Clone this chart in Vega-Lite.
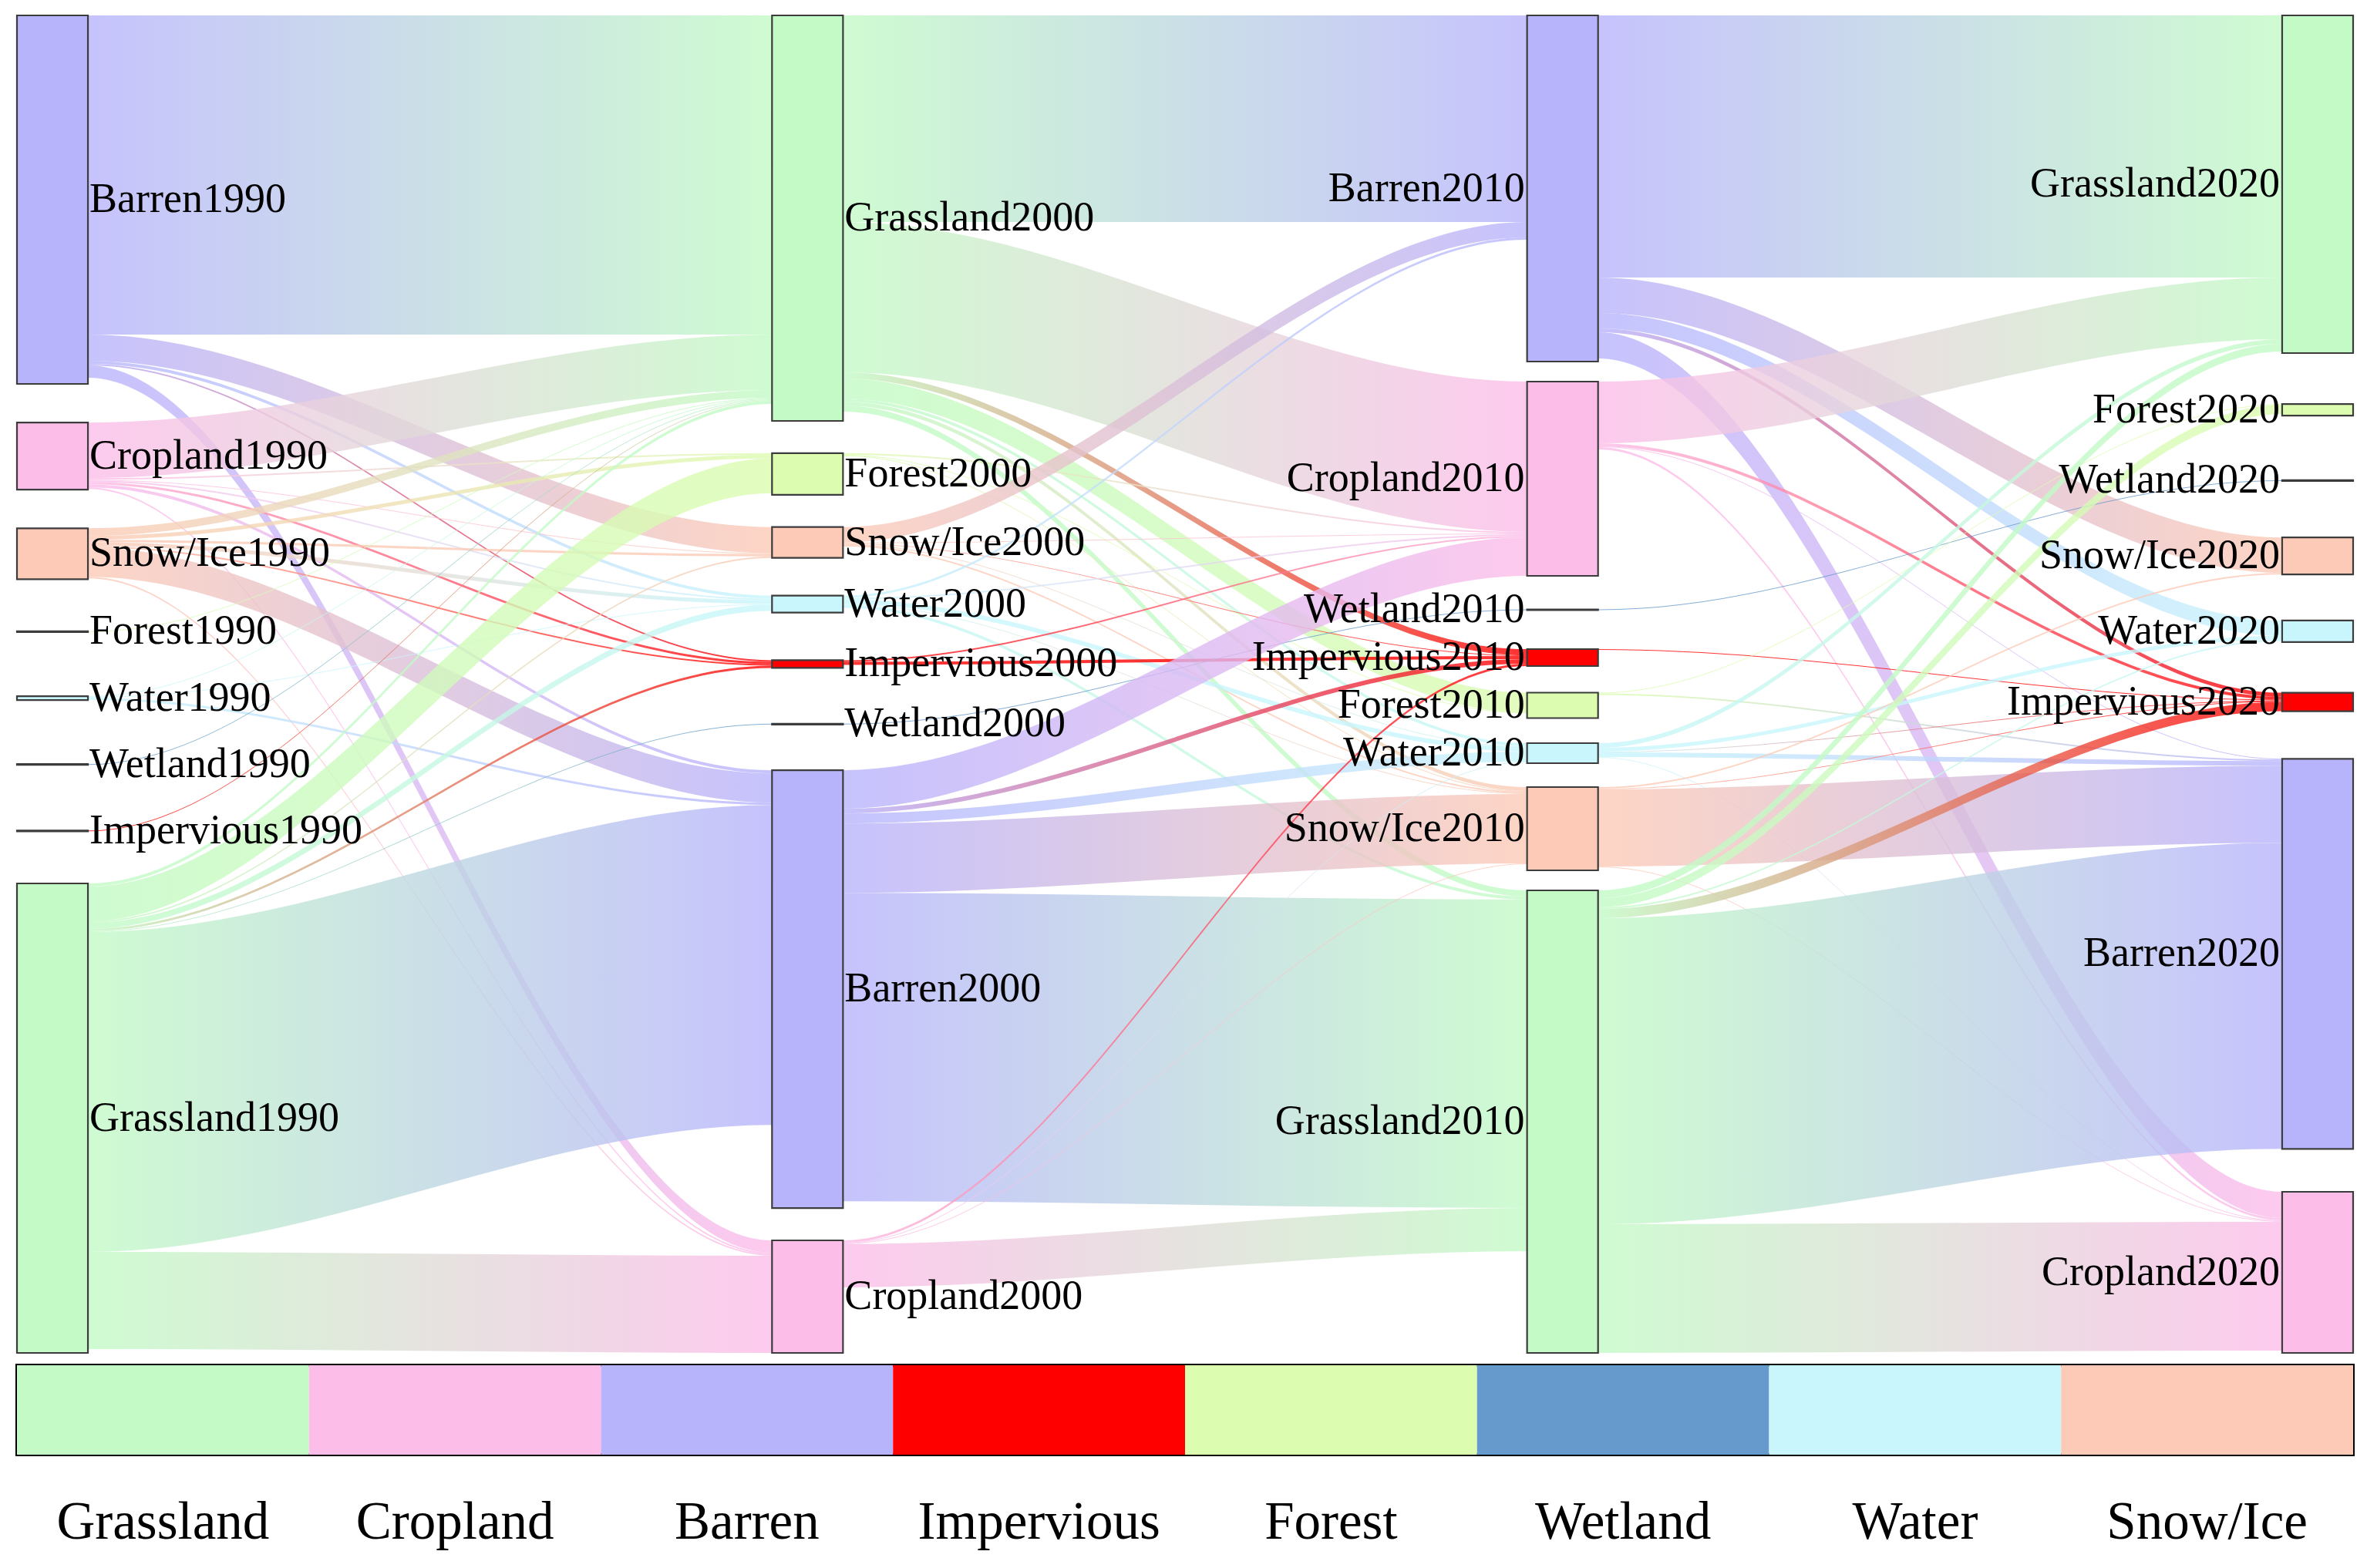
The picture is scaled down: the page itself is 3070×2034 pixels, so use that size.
{
  "$schema": "https://vega.github.io/schema/vega-lite/v6.json",
  "padding": {"left": 20, "top": 18, "right": 20, "bottom": 0},
  "autosize": {"type": "pad"},
  "background": "white",
  "spacing": 16,
  "bounds": "flush",
  "config": {"view": {"stroke": null}},
  "datasets": {
    "sk": [
      {"year": 1990, "cover": "Barren", "rank": 0, "area": 478},
      {"year": 1990, "cover": "Cropland", "rank": 1, "area": 87},
      {"year": 1990, "cover": "Snow/Ice", "rank": 2, "area": 66},
      {"year": 1990, "cover": "Forest", "rank": 3, "area": 1},
      {"year": 1990, "cover": "Water", "rank": 4, "area": 5},
      {"year": 1990, "cover": "Wetland", "rank": 5, "area": 1},
      {"year": 1990, "cover": "Impervious", "rank": 6, "area": 1},
      {"year": 1990, "cover": "Grassland", "rank": 7, "area": 609},
      {"year": 2000, "cover": "Grassland", "rank": 0, "area": 526},
      {"year": 2000, "cover": "Forest", "rank": 1, "area": 54},
      {"year": 2000, "cover": "Snow/Ice", "rank": 2, "area": 40},
      {"year": 2000, "cover": "Water", "rank": 3, "area": 22},
      {"year": 2000, "cover": "Impervious", "rank": 4, "area": 10},
      {"year": 2000, "cover": "Wetland", "rank": 5, "area": 1},
      {"year": 2000, "cover": "Barren", "rank": 6, "area": 568},
      {"year": 2000, "cover": "Cropland", "rank": 7, "area": 146},
      {"year": 2010, "cover": "Barren", "rank": 0, "area": 449},
      {"year": 2010, "cover": "Cropland", "rank": 1, "area": 252},
      {"year": 2010, "cover": "Wetland", "rank": 2, "area": 1},
      {"year": 2010, "cover": "Impervious", "rank": 3, "area": 22},
      {"year": 2010, "cover": "Forest", "rank": 4, "area": 33},
      {"year": 2010, "cover": "Water", "rank": 5, "area": 26},
      {"year": 2010, "cover": "Snow/Ice", "rank": 6, "area": 108},
      {"year": 2010, "cover": "Grassland", "rank": 7, "area": 600},
      {"year": 2020, "cover": "Grassland", "rank": 0, "area": 438},
      {"year": 2020, "cover": "Forest", "rank": 1, "area": 15},
      {"year": 2020, "cover": "Wetland", "rank": 2, "area": 1},
      {"year": 2020, "cover": "Snow/Ice", "rank": 3, "area": 48},
      {"year": 2020, "cover": "Water", "rank": 4, "area": 28},
      {"year": 2020, "cover": "Impervious", "rank": 5, "area": 24},
      {"year": 2020, "cover": "Barren", "rank": 6, "area": 506},
      {"year": 2020, "cover": "Cropland", "rank": 7, "area": 209},

      {"year": 1990, "from": "Barren", "to": "Grassland", "area": 414},
      {"year": 1990, "from": "Barren", "to": "Snow/Ice", "area": 34},
      {"year": 1990, "from": "Barren", "to": "Water", "area": 4},
      {"year": 1990, "from": "Barren", "to": "Impervious", "area": 2},
      {"year": 1990, "from": "Barren", "to": "Cropland", "area": 16},
      {"year": 1990, "from": "Cropland", "to": "Grassland", "area": 72},
      {"year": 1990, "from": "Cropland", "to": "Forest", "area": 2},
      {"year": 1990, "from": "Cropland", "to": "Snow/Ice", "area": 1},
      {"year": 1990, "from": "Cropland", "to": "Water", "area": 2},
      {"year": 1990, "from": "Cropland", "to": "Impervious", "area": 3},
      {"year": 1990, "from": "Cropland", "to": "Barren", "area": 4},
      {"year": 1990, "from": "Cropland", "to": "Cropland", "area": 2},
      {"year": 1990, "from": "Snow/Ice", "to": "Grassland", "area": 10},
      {"year": 1990, "from": "Snow/Ice", "to": "Forest", "area": 5},
      {"year": 1990, "from": "Snow/Ice", "to": "Snow/Ice", "area": 3},
      {"year": 1990, "from": "Snow/Ice", "to": "Water", "area": 5},
      {"year": 1990, "from": "Snow/Ice", "to": "Impervious", "area": 2},
      {"year": 1990, "from": "Snow/Ice", "to": "Barren", "area": 38},
      {"year": 1990, "from": "Snow/Ice", "to": "Cropland", "area": 2},
      {"year": 1990, "from": "Forest", "to": "Grassland", "area": 1},
      {"year": 1990, "from": "Water", "to": "Grassland", "area": 1},
      {"year": 1990, "from": "Water", "to": "Water", "area": 1},
      {"year": 1990, "from": "Water", "to": "Barren", "area": 3},
      {"year": 1990, "from": "Wetland", "to": "Grassland", "area": 1},
      {"year": 1990, "from": "Impervious", "to": "Grassland", "area": 1},
      {"year": 1990, "from": "Grassland", "to": "Grassland", "area": 4},
      {"year": 1990, "from": "Grassland", "to": "Forest", "area": 45},
      {"year": 1990, "from": "Grassland", "to": "Snow/Ice", "area": 2},
      {"year": 1990, "from": "Grassland", "to": "Water", "area": 8},
      {"year": 1990, "from": "Grassland", "to": "Impervious", "area": 3},
      {"year": 1990, "from": "Grassland", "to": "Wetland", "area": 1},
      {"year": 1990, "from": "Grassland", "to": "Barren", "area": 415},
      {"year": 1990, "from": "Grassland", "to": "Cropland", "area": 126},

      {"year": 2000, "from": "Grassland", "to": "Barren", "area": 268},
      {"year": 2000, "from": "Grassland", "to": "Cropland", "area": 195},
      {"year": 2000, "from": "Grassland", "to": "Impervious", "area": 8},
      {"year": 2000, "from": "Grassland", "to": "Forest", "area": 26},
      {"year": 2000, "from": "Grassland", "to": "Water", "area": 4},
      {"year": 2000, "from": "Grassland", "to": "Snow/Ice", "area": 5},
      {"year": 2000, "from": "Grassland", "to": "Grassland", "area": 8},
      {"year": 2000, "from": "Forest", "to": "Cropland", "area": 2},
      {"year": 2000, "from": "Forest", "to": "Forest", "area": 1},
      {"year": 2000, "from": "Forest", "to": "Snow/Ice", "area": 1},
      {"year": 2000, "from": "Snow/Ice", "to": "Barren", "area": 20},
      {"year": 2000, "from": "Snow/Ice", "to": "Cropland", "area": 1},
      {"year": 2000, "from": "Snow/Ice", "to": "Impervious", "area": 1},
      {"year": 2000, "from": "Snow/Ice", "to": "Water", "area": 1},
      {"year": 2000, "from": "Snow/Ice", "to": "Snow/Ice", "area": 2},
      {"year": 2000, "from": "Water", "to": "Barren", "area": 3},
      {"year": 2000, "from": "Water", "to": "Cropland", "area": 2},
      {"year": 2000, "from": "Water", "to": "Water", "area": 6},
      {"year": 2000, "from": "Water", "to": "Snow/Ice", "area": 1},
      {"year": 2000, "from": "Water", "to": "Grassland", "area": 4},
      {"year": 2000, "from": "Impervious", "to": "Cropland", "area": 2},
      {"year": 2000, "from": "Impervious", "to": "Impervious", "area": 4},
      {"year": 2000, "from": "Wetland", "to": "Wetland", "area": 1},
      {"year": 2000, "from": "Barren", "to": "Cropland", "area": 50},
      {"year": 2000, "from": "Barren", "to": "Impervious", "area": 6},
      {"year": 2000, "from": "Barren", "to": "Water", "area": 13},
      {"year": 2000, "from": "Barren", "to": "Snow/Ice", "area": 90},
      {"year": 2000, "from": "Barren", "to": "Grassland", "area": 400},
      {"year": 2000, "from": "Cropland", "to": "Impervious", "area": 3},
      {"year": 2000, "from": "Cropland", "to": "Water", "area": 1},
      {"year": 2000, "from": "Cropland", "to": "Snow/Ice", "area": 1},
      {"year": 2000, "from": "Cropland", "to": "Grassland", "area": 56},

      {"year": 2010, "from": "Barren", "to": "Grassland", "area": 340},
      {"year": 2010, "from": "Barren", "to": "Snow/Ice", "area": 46},
      {"year": 2010, "from": "Barren", "to": "Water", "area": 20},
      {"year": 2010, "from": "Barren", "to": "Impervious", "area": 5},
      {"year": 2010, "from": "Barren", "to": "Cropland", "area": 34},
      {"year": 2010, "from": "Cropland", "to": "Grassland", "area": 80},
      {"year": 2010, "from": "Cropland", "to": "Impervious", "area": 4},
      {"year": 2010, "from": "Cropland", "to": "Barren", "area": 1},
      {"year": 2010, "from": "Cropland", "to": "Cropland", "area": 3},
      {"year": 2010, "from": "Wetland", "to": "Wetland", "area": 1},
      {"year": 2010, "from": "Impervious", "to": "Impervious", "area": 1},
      {"year": 2010, "from": "Forest", "to": "Forest", "area": 1},
      {"year": 2010, "from": "Forest", "to": "Barren", "area": 2},
      {"year": 2010, "from": "Water", "to": "Grassland", "area": 6},
      {"year": 2010, "from": "Water", "to": "Water", "area": 5},
      {"year": 2010, "from": "Water", "to": "Impervious", "area": 1},
      {"year": 2010, "from": "Water", "to": "Barren", "area": 6},
      {"year": 2010, "from": "Water", "to": "Cropland", "area": 1},
      {"year": 2010, "from": "Snow/Ice", "to": "Snow/Ice", "area": 2},
      {"year": 2010, "from": "Snow/Ice", "to": "Impervious", "area": 1},
      {"year": 2010, "from": "Snow/Ice", "to": "Barren", "area": 100},
      {"year": 2010, "from": "Snow/Ice", "to": "Cropland", "area": 1},
      {"year": 2010, "from": "Grassland", "to": "Grassland", "area": 10},
      {"year": 2010, "from": "Grassland", "to": "Forest", "area": 12},
      {"year": 2010, "from": "Grassland", "to": "Water", "area": 2},
      {"year": 2010, "from": "Grassland", "to": "Impervious", "area": 12},
      {"year": 2010, "from": "Grassland", "to": "Barren", "area": 397},
      {"year": 2010, "from": "Grassland", "to": "Cropland", "area": 167}
    ],
    "legend": [
      {"cover": "Grassland"}, {"cover": "Cropland"}, {"cover": "Barren"}, {"cover": "Impervious"},
      {"cover": "Forest"}, {"cover": "Wetland"}, {"cover": "Water"}, {"cover": "Snow/Ice"}
    ]
  },
  "vconcat": [
    {
      "width": 3030,
      "height": 1735,
      "data": {"name": "sk"},
      "layer": [
        {
          "transform": [
            {"calculate": "datum.year + datum.from + '>' + datum.to", "as": "lid"},
            {"calculate": "{gradient: 'linear', x1: 0, y1: 0, x2: 1, y2: 0, stops: [{offset: 0.09, color: ['#c3fac6','#fcbde9','#b8b4fc','#ff0000','#dcfcb0','#6699cc','#c8f6fc','#fccab6'][indexof(['Grassland','Cropland','Barren','Impervious','Forest','Wetland','Water','Snow/Ice'], datum.from)]}, {offset: 0.91, color: ['#c3fac6','#fcbde9','#b8b4fc','#ff0000','#dcfcb0','#6699cc','#c8f6fc','#fccab6'][indexof(['Grassland','Cropland','Barren','Impervious','Forest','Wetland','Water','Snow/Ice'], datum.to)]}]}", "as": "grad"},
            {"fold": ["from", "to"], "as": ["end", "cover2"]},
            {"filter": "isValid(datum.to) || datum.end === 'from'"},
            {"calculate": "isValid(datum.rank) ? datum.cover : datum.cover2", "as": "nc"},
            {"calculate": "(!isValid(datum.rank) && datum.end === 'to') ? datum.year + 10 : datum.year", "as": "ny"},
            {"calculate": "isValid(datum.rank) ? max(datum.area, 36) : 0", "as": "nodeSlot"},
            {"calculate": "isValid(datum.rank) ? datum.area : 0", "as": "nodeArea"},
            {"calculate": "isValid(datum.rank) ? 0 : datum.area", "as": "flowArea"},
            {"calculate": "isValid(datum.rank) ? 1 : 0", "as": "isNode"},
            {"joinaggregate": [{"op": "max", "field": "rank", "as": "nrank"}, {"op": "max", "field": "nodeSlot", "as": "nslot"}, {"op": "max", "field": "nodeArea", "as": "narea"}], "groupby": ["ny", "nc"]},
            {"joinaggregate": [{"op": "sum", "field": "nodeSlot", "as": "colTotal"}, {"op": "sum", "field": "isNode", "as": "nNodes"}], "groupby": ["ny"]},
            {"window": [{"op": "sum", "field": "nodeSlot", "as": "cumN"}], "groupby": ["ny"], "sort": [{"field": "nrank", "order": "ascending"}, {"field": "isNode", "order": "ascending"}], "frame": [null, 0]},
            {"joinaggregate": [{"op": "sum", "field": "nrank", "as": "rsum"}], "groupby": ["lid"]},
            {"calculate": "datum.rsum - datum.nrank", "as": "other"},
            {"window": [{"op": "sum", "field": "flowArea", "as": "cumF"}], "groupby": ["ny", "nc", "end"], "sort": [{"field": "other", "order": "ascending"}], "frame": [null, 0]},
            {"filter": "isValid(datum.to)"},
            {"calculate": "datum.cumN + datum.nrank * (1735 - datum.colTotal) / (datum.nNodes - 1) + (datum.nslot - datum.narea) / 2 + datum.cumF - datum.area", "as": "ya"},
            {"calculate": "datum.ya + datum.area", "as": "yb"},
            {"calculate": "[datum.ny, datum.ny + 0.94]", "as": "xs"},
            {"flatten": ["xs"], "as": ["x"]}
          ],
          "mark": {"type": "area", "interpolate": "monotone", "fillOpacity": 0.8, "opacity": 1},
          "encoding": {
            "x": {"field": "x", "type": "quantitative", "scale": {"domain": [1990, 2020.94], "nice": false, "zero": false}, "axis": null},
            "y": {"field": "ya", "type": "quantitative", "stack": null, "scale": {"domain": [0, 1735], "reverse": true, "nice": false, "zero": false}, "axis": null},
            "y2": {"field": "yb"},
            "detail": {"field": "lid"},
            "fill": {"field": "grad", "type": "nominal", "scale": null, "legend": null}
          }
        },
        {
          "transform": [
            {"filter": "isValid(datum.rank)"},
            {"calculate": "max(datum.area, 36)", "as": "slot"},
            {"joinaggregate": [{"op": "sum", "field": "slot", "as": "colTotal"}, {"op": "count", "as": "nNodes"}], "groupby": ["year"]},
            {"window": [{"op": "sum", "field": "slot", "as": "cum"}], "groupby": ["year"], "sort": [{"field": "rank", "order": "ascending"}], "frame": [null, 0]},
            {"calculate": "datum.cum - datum.slot + datum.rank * (1735 - datum.colTotal) / (datum.nNodes - 1) + (datum.slot - datum.area) / 2", "as": "y0"},
            {"calculate": "datum.y0 + datum.area", "as": "y1"},
            {"calculate": "(datum.y0 + datum.y1) / 2", "as": "ym"},
            {"calculate": "datum.year + 0.94", "as": "xr"},
            {"calculate": "datum.cover + datum.year", "as": "label"}
          ],
          "layer": [
            {
              "mark": {"type": "rect", "stroke": "#3c3c3c", "strokeWidth": 2.2, "opacity": 1},
              "encoding": {
                "x": {"field": "year", "type": "quantitative", "scale": {"domain": [1990, 2020.94], "nice": false, "zero": false}, "axis": null},
                "x2": {"field": "xr"},
                "y": {"field": "y0", "type": "quantitative", "scale": {"domain": [0, 1735], "reverse": true, "nice": false, "zero": false}, "axis": null},
                "y2": {"field": "y1"},
                "color": {
                  "field": "cover", "type": "nominal", "legend": null,
                  "scale": {
                    "domain": ["Grassland", "Cropland", "Barren", "Impervious", "Forest", "Wetland", "Water", "Snow/Ice"],
                    "range": ["#c3fac6", "#fcbde9", "#b8b4fc", "#ff0000", "#dcfcb0", "#6699cc", "#c8f6fc", "#fccab6"]
                  }
                }
              }
            },
            {
              "transform": [{"filter": "datum.year < 2010"}],
              "mark": {"type": "text", "align": "left", "baseline": "middle", "dx": 2, "font": "Liberation Serif", "fontSize": 54, "color": "#000"},
              "encoding": {
                "x": {"field": "xr", "type": "quantitative", "scale": {"domain": [1990, 2020.94], "nice": false, "zero": false}, "axis": null},
                "y": {"field": "ym", "type": "quantitative", "scale": {"domain": [0, 1735], "reverse": true, "nice": false, "zero": false}, "axis": null},
                "text": {"field": "label"}
              }
            },
            {
              "transform": [{"filter": "datum.year >= 2010"}],
              "mark": {"type": "text", "align": "right", "baseline": "middle", "dx": -3, "font": "Liberation Serif", "fontSize": 54, "color": "#000"},
              "encoding": {
                "x": {"field": "year", "type": "quantitative", "scale": {"domain": [1990, 2020.94], "nice": false, "zero": false}, "axis": null},
                "y": {"field": "ym", "type": "quantitative", "scale": {"domain": [0, 1735], "reverse": true, "nice": false, "zero": false}, "axis": null},
                "text": {"field": "label"}
              }
            }
          ]
        }
      ]
    },
    {
      "width": 3030,
      "height": 116,
      "data": {"name": "legend"},
      "view": {"stroke": "#000", "strokeWidth": 4},
      "mark": {"type": "rect"},
      "encoding": {
        "x": {
          "field": "cover", "type": "nominal", "sort": null,
          "scale": {"paddingInner": 0, "paddingOuter": 0},
          "axis": {"title": null, "ticks": false, "tickSize": 0, "domain": false, "labelFont": "Liberation Serif", "labelFontSize": 69, "labelColor": "#000", "labelPadding": 108, "labelBaseline": "alphabetic", "labelAngle": 0, "labelLimit": 1000, "labelOverlap": false}
        },
        "color": {
          "field": "cover", "type": "nominal", "legend": null,
          "scale": {
            "domain": ["Grassland", "Cropland", "Barren", "Impervious", "Forest", "Wetland", "Water", "Snow/Ice"],
            "range": ["#c3fac6", "#fcbde9", "#b8b4fc", "#ff0000", "#dcfcb0", "#6699cc", "#c8f6fc", "#fccab6"]
          }
        }
      }
    }
  ]
}
